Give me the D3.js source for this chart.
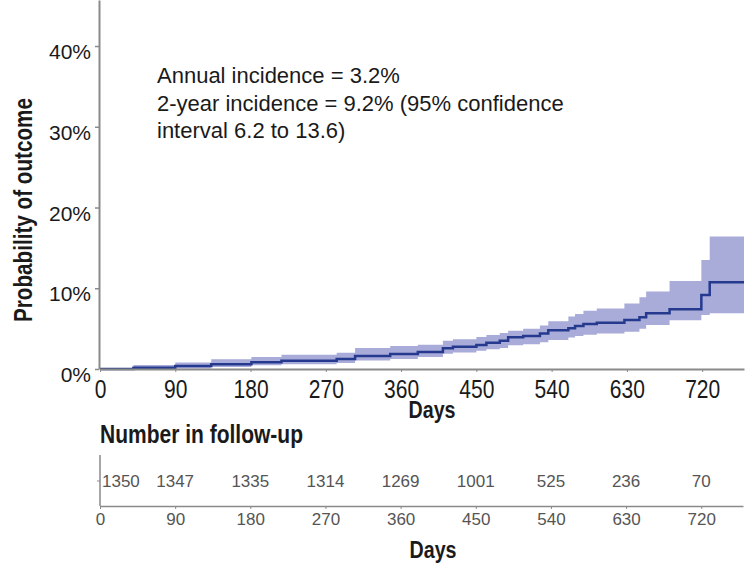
<!DOCTYPE html>
<html>
<head>
<meta charset="utf-8">
<script src="https://cdn.jsdelivr.net/npm/d3@7"></script>
<style>
  body { margin: 0; background: #fff; }
  svg { display: block; font-family: "Liberation Sans", Arial, sans-serif; }
  .narrow { font-family: "Liberation Sans", Arial, sans-serif; font-weight: bold; }
</style>
</head>
<body>
<div id="chart"></div>
<script>
// Step points of the cumulative incidence curve (day, estimate %, lower CI %, upper CI %)
const stepDays = [0, 40, 90, 133, 181, 217, 283, 305, 347, 380, 410, 422, 450, 462, 478, 488, 506, 526, 536, 560, 568, 578, 594, 627, 645, 653, 681, 719, 729];
const estimate = [0, 0.16, 0.37, 0.58, 0.83, 1.03, 1.24, 1.6, 1.86, 2.1, 2.56, 2.76, 2.97, 3.26, 3.5, 3.93, 4.1, 4.4, 4.8, 5.04, 5.33, 5.58, 5.74, 6.07, 6.4, 6.9, 7.4, 9.17, 10.74];
const lowerCI = [0, 0, 0.05, 0.25, 0.45, 0.6, 0.75, 1.05, 1.25, 1.5, 1.9, 2.05, 2.25, 2.45, 2.6, 2.95, 3.05, 3.3, 3.6, 3.9, 4.1, 4.25, 4.4, 4.6, 5.0, 5.45, 6.05, 6.7, 6.9];
const upperCI = [0, 0.5, 0.8, 1.2, 1.5, 1.75, 2.0, 2.6, 2.85, 3.0, 3.5, 3.7, 3.95, 4.2, 4.45, 4.75, 5.0, 5.4, 5.9, 6.5, 6.8, 7.2, 7.5, 8.1, 8.9, 9.6, 10.9, 13.5, 16.4];
const lastDay = 770;

// Axis ticks and the number-at-risk table
const dayTicks = [0, 90, 180, 270, 360, 450, 540, 630, 720];
const pctTicks = [0, 10, 20, 30, 40];
const atRisk = [1350, 1347, 1335, 1314, 1269, 1001, 525, 236, 70];

const annotation = [
  "Annual incidence = 3.2%",
  "2-year incidence = 9.2% (95% confidence",
  "interval 6.2 to 13.6)"
];

const width = 755;
const height = 570;

const svg = d3.select("#chart").append("svg")
  .attr("width", width)
  .attr("height", height)
  .attr("viewBox", [0, 0, width, height]);

const x = d3.scaleLinear().domain([0, lastDay]).range([100, 744]);
const y = d3.scaleLinear().domain([0, 45.7]).range([369, 0]);

// Data rows, with a closing point at the last day
const rows = stepDays.map((d, i) => ({day: d, est: estimate[i], lo: lowerCI[i], hi: upperCI[i]}));
rows.push({...rows[rows.length - 1], day: lastDay});

// Confidence band
svg.append("path")
  .datum(rows)
  .attr("fill", "#a9acd9")
  .attr("d", d3.area()
    .curve(d3.curveStepAfter)
    .x(d => x(d.day))
    .y0(d => y(d.lo))
    .y1(d => y(d.hi)));

// Estimate line
svg.append("path")
  .datum(rows)
  .attr("fill", "none")
  .attr("stroke", "#253a8e")
  .attr("stroke-width", 2.5)
  .attr("d", d3.line()
    .curve(d3.curveStepAfter)
    .x(d => x(d.day))
    .y(d => y(d.est)));

// Y axis
svg.append("g")
  .attr("transform", "translate(99,0)")
  .call(d3.axisLeft(y).tickValues(pctTicks).tickFormat(d => d + "%").tickSize(4).tickSizeOuter(0))
  .call(g => g.select(".domain").attr("stroke", "#8a8a8a").attr("stroke-width", 2))
  .call(g => g.selectAll(".tick line").attr("stroke", "#8a8a8a").attr("stroke-width", 1.5))
  .call(g => g.selectAll(".tick text")
    .attr("x", -8)
    .attr("dy", "0.6em")
    .attr("fill", "#1a1a1a")
    .attr("font-size", 21));

// X axis (condensed tall digits)
svg.append("g")
  .attr("transform", "translate(0,369)")
  .call(d3.axisBottom(x).tickValues(dayTicks).tickSize(3).tickSizeOuter(0))
  .call(g => g.select(".domain").attr("stroke", "#8a8a8a").attr("stroke-width", 2))
  .call(g => g.selectAll(".tick line").attr("stroke", "#8a8a8a"))
  .call(g => g.selectAll(".tick text")
    .attr("y", 29)
    .attr("dy", 0)
    .attr("fill", "#1a1a1a")
    .attr("font-size", 26)
    .attr("textLength", d => String(d).length * 11.7)
    .attr("lengthAdjust", "spacingAndGlyphs"));

// Axis titles
svg.append("text")
  .attr("class", "narrow")
  .attr("transform", "translate(32,210) rotate(-90)")
  .attr("text-anchor", "middle")
  .attr("font-size", 25)
  .attr("fill", "#1a1a1a")
  .attr("textLength", 224)
  .attr("lengthAdjust", "spacingAndGlyphs")
  .text("Probability of outcome");

svg.append("text")
  .attr("class", "narrow")
  .attr("x", 432)
  .attr("y", 418)
  .attr("text-anchor", "middle")
  .attr("font-size", 23)
  .attr("fill", "#1a1a1a")
  .attr("textLength", 47)
  .attr("lengthAdjust", "spacingAndGlyphs")
  .text("Days");

// Annotation
svg.append("g")
  .selectAll("text")
  .data(annotation)
  .join("text")
  .attr("x", 157)
  .attr("y", (d, i) => 83 + i * 27.5)
  .attr("font-size", 22)
  .attr("fill", "#1a1a1a")
  .text(d => d);

// Number in follow-up table
svg.append("text")
  .attr("class", "narrow")
  .attr("x", 100)
  .attr("y", 443)
  .attr("font-size", 25)
  .attr("fill", "#1a1a1a")
  .attr("textLength", 203)
  .attr("lengthAdjust", "spacingAndGlyphs")
  .text("Number in follow-up");

const tx = d3.scaleLinear().domain([0, lastDay]).range([100, 743]);

svg.append("g")
  .attr("transform", "translate(0,506)")
  .call(d3.axisBottom(tx).tickValues(dayTicks).tickSize(3).tickSizeOuter(0))
  .call(g => g.select(".domain").attr("stroke", "#8a8a8a").attr("stroke-width", 1.5))
  .call(g => g.selectAll(".tick line").attr("stroke", "#8a8a8a"))
  .call(g => g.selectAll(".tick text")
    .attr("y", 7)
    .attr("fill", "#555")
    .attr("font-size", 17));

// vertical rule of the table
svg.append("line")
  .attr("x1", tx(0)).attr("x2", tx(0))
  .attr("y1", 455).attr("y2", 506)
  .attr("stroke", "#8a8a8a")
  .attr("stroke-width", 1.5);
svg.append("line")
  .attr("x1", tx(0) - 3).attr("x2", tx(0))
  .attr("y1", 481).attr("y2", 481)
  .attr("stroke", "#8a8a8a");

svg.append("g")
  .selectAll("text")
  .data(atRisk)
  .join("text")
  .attr("x", (d, i) => i === 0 ? tx(dayTicks[i]) + 2 : tx(dayTicks[i]))
  .attr("y", 487)
  .attr("text-anchor", (d, i) => i === 0 ? "start" : "middle")
  .attr("font-size", 17)
  .attr("fill", "#555")
  .text(d => d);

svg.append("text")
  .attr("class", "narrow")
  .attr("x", 433)
  .attr("y", 558)
  .attr("text-anchor", "middle")
  .attr("font-size", 23)
  .attr("fill", "#1a1a1a")
  .attr("textLength", 47)
  .attr("lengthAdjust", "spacingAndGlyphs")
  .text("Days");
</script>
</body>
</html>
